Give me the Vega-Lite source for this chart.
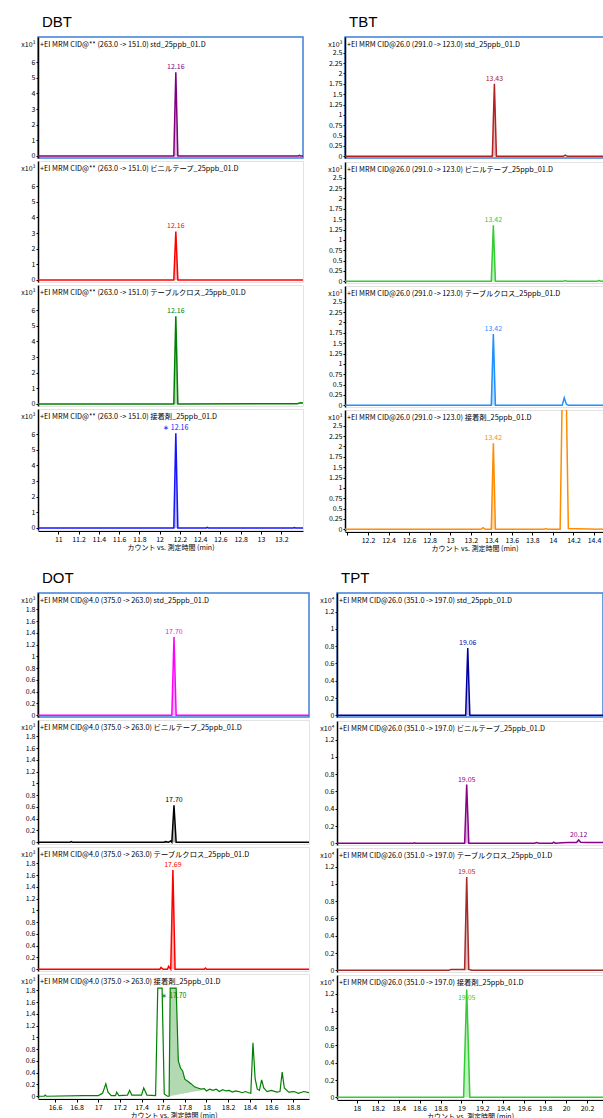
{
"$schema": "https://vega.github.io/schema/vega-lite/v6.json",
"background": "white",
"padding": {"left": 20, "top": 15, "right": 0, "bottom": 0},
"config": {
  "font": "Noto Sans CJK JP",
  "view": {"stroke": "#e3e3e3", "strokeWidth": 1},
  "axis": {"grid": false, "labelFontSize": 7, "labelColor": "#000", "tickColor": "#000", "domainColor": "#000", "titleFontSize": 7, "titleFontWeight": "normal", "titleColor": "#000"},
  "axisY": {"tickSize": 2, "labelPadding": 1, "domainWidth": 1.5, "titleAngle": 0, "titleAlign": "right", "titleBaseline": "alphabetic", "titleX": -3, "titleY": 9},
  "axisX": {"tickSize": 3, "labelPadding": 1, "titlePadding": 1, "offset": 1},
  "title": {"fontSize": 7.3, "font": "Noto Sans CJK JP", "fontWeight": "normal", "anchor": "start", "frame": "group", "offset": -11, "dx": 2, "color": "#000", "baseline": "bottom"},
  "line": {"strokeWidth": 1.5},
  "area": {"opacity": 0.3},
  "text": {"fontSize": 7, "dy": -5}
},
"data": {"values": [
{"c":"DBT","s":"std","t":10.8,"v":0},{"c":"DBT","s":"std","t":12.14,"v":0,"b":0},{"c":"DBT","s":"std","t":12.16,"v":5.35,"b":0},{"c":"DBT","s":"std","t":12.18,"v":0,"b":0},{"c":"DBT","s":"std","t":13.37,"v":0},{"c":"DBT","s":"std","t":13.38,"v":0.04},{"c":"DBT","s":"std","t":13.39,"v":0},{"c":"DBT","s":"std","t":13.415,"v":0},{"c":"DBT","s":"std","t":12.16,"v":5.35,"l":"12.16"},
{"c":"DBT","s":"vin","t":10.8,"v":0},{"c":"DBT","s":"vin","t":12.14,"v":0,"b":0},{"c":"DBT","s":"vin","t":12.16,"v":3.1,"b":0},{"c":"DBT","s":"vin","t":12.18,"v":0,"b":0},{"c":"DBT","s":"vin","t":13.415,"v":0},{"c":"DBT","s":"vin","t":12.16,"v":3.1,"l":"12.16"},
{"c":"DBT","s":"tab","t":10.8,"v":0},{"c":"DBT","s":"tab","t":12.14,"v":0,"b":0},{"c":"DBT","s":"tab","t":12.16,"v":5.6,"b":0},{"c":"DBT","s":"tab","t":12.18,"v":0,"b":0},{"c":"DBT","s":"tab","t":13.36,"v":0.02},{"c":"DBT","s":"tab","t":13.39,"v":0.07},{"c":"DBT","s":"tab","t":13.415,"v":0.06},{"c":"DBT","s":"tab","t":12.16,"v":5.6,"l":"12.16"},
{"c":"DBT","s":"adh","t":10.8,"v":0},{"c":"DBT","s":"adh","t":12.14,"v":0,"b":0},{"c":"DBT","s":"adh","t":12.16,"v":6.05,"b":0},{"c":"DBT","s":"adh","t":12.18,"v":0,"b":0},{"c":"DBT","s":"adh","t":12.46,"v":0},{"c":"DBT","s":"adh","t":12.47,"v":0.04},{"c":"DBT","s":"adh","t":12.48,"v":0},{"c":"DBT","s":"adh","t":13.32,"v":0},{"c":"DBT","s":"adh","t":13.33,"v":0.03},{"c":"DBT","s":"adh","t":13.34,"v":0},{"c":"DBT","s":"adh","t":13.415,"v":0},{"c":"DBT","s":"adh","t":12.16,"v":6.05,"l":"∗ 12.16"},
{"c":"TBT","s":"std","t":11.976,"v":0},{"c":"TBT","s":"std","t":13.41,"v":0,"b":0},{"c":"TBT","s":"std","t":13.43,"v":1.75,"b":0},{"c":"TBT","s":"std","t":13.45,"v":0,"b":0},{"c":"TBT","s":"std","t":14.1,"v":0},{"c":"TBT","s":"std","t":14.12,"v":0.03},{"c":"TBT","s":"std","t":14.14,"v":0},{"c":"TBT","s":"std","t":14.497,"v":0},{"c":"TBT","s":"std","t":13.43,"v":1.75,"l":"13.43"},
{"c":"TBT","s":"vin","t":11.976,"v":0},{"c":"TBT","s":"vin","t":13.4,"v":0,"b":0},{"c":"TBT","s":"vin","t":13.42,"v":1.35,"b":0},{"c":"TBT","s":"vin","t":13.44,"v":0,"b":0},{"c":"TBT","s":"vin","t":14.1,"v":0},{"c":"TBT","s":"vin","t":14.12,"v":0.02},{"c":"TBT","s":"vin","t":14.14,"v":0},{"c":"TBT","s":"vin","t":14.43,"v":0},{"c":"TBT","s":"vin","t":14.45,"v":0.02},{"c":"TBT","s":"vin","t":14.47,"v":0},{"c":"TBT","s":"vin","t":14.497,"v":0},{"c":"TBT","s":"vin","t":13.42,"v":1.35,"l":"13.42"},
{"c":"TBT","s":"tab","t":11.976,"v":0},{"c":"TBT","s":"tab","t":13.4,"v":0,"b":0},{"c":"TBT","s":"tab","t":13.42,"v":1.72,"b":0},{"c":"TBT","s":"tab","t":13.44,"v":0,"b":0},{"c":"TBT","s":"tab","t":14.09,"v":0},{"c":"TBT","s":"tab","t":14.11,"v":0.18},{"c":"TBT","s":"tab","t":14.13,"v":0.03},{"c":"TBT","s":"tab","t":14.15,"v":0},{"c":"TBT","s":"tab","t":14.497,"v":0},{"c":"TBT","s":"tab","t":13.42,"v":1.72,"l":"13.42"},
{"c":"TBT","s":"adh","t":11.976,"v":0},{"c":"TBT","s":"adh","t":13.3,"v":0},{"c":"TBT","s":"adh","t":13.32,"v":0.04},{"c":"TBT","s":"adh","t":13.34,"v":0},{"c":"TBT","s":"adh","t":13.4,"v":0,"b":0},{"c":"TBT","s":"adh","t":13.42,"v":2.08,"b":0},{"c":"TBT","s":"adh","t":13.44,"v":0,"b":0},{"c":"TBT","s":"adh","t":13.91,"v":0},{"c":"TBT","s":"adh","t":13.93,"v":0.02},{"c":"TBT","s":"adh","t":13.95,"v":0},{"c":"TBT","s":"adh","t":14.07,"v":0},{"c":"TBT","s":"adh","t":14.09,"v":3.2},{"c":"TBT","s":"adh","t":14.13,"v":3.2},{"c":"TBT","s":"adh","t":14.15,"v":0.02},{"c":"TBT","s":"adh","t":14.44,"v":0},{"c":"TBT","s":"adh","t":14.45,"v":0.01},{"c":"TBT","s":"adh","t":14.497,"v":0},{"c":"TBT","s":"adh","t":13.42,"v":2.08,"l":"13.42"},
{"c":"DOT","s":"std","t":16.443,"v":0},{"c":"DOT","s":"std","t":17.68,"v":0,"b":0},{"c":"DOT","s":"std","t":17.7,"v":1.33,"b":0},{"c":"DOT","s":"std","t":17.72,"v":0,"b":0},{"c":"DOT","s":"std","t":18.948,"v":0},{"c":"DOT","s":"std","t":17.7,"v":1.33,"l":"17.70"},
{"c":"DOT","s":"vin","t":16.443,"v":0},{"c":"DOT","s":"vin","t":16.74,"v":0},{"c":"DOT","s":"vin","t":16.75,"v":0.01},{"c":"DOT","s":"vin","t":16.76,"v":0},{"c":"DOT","s":"vin","t":17.61,"v":0},{"c":"DOT","s":"vin","t":17.62,"v":0.01},{"c":"DOT","s":"vin","t":17.65,"v":0},{"c":"DOT","s":"vin","t":17.67,"v":0.02},{"c":"DOT","s":"vin","t":17.68,"v":0,"b":0},{"c":"DOT","s":"vin","t":17.7,"v":0.63,"b":0},{"c":"DOT","s":"vin","t":17.72,"v":0,"b":0},{"c":"DOT","s":"vin","t":18.948,"v":0},{"c":"DOT","s":"vin","t":17.7,"v":0.63,"l":"17.70"},
{"c":"DOT","s":"tab","t":16.443,"v":0},{"c":"DOT","s":"tab","t":17.57,"v":0},{"c":"DOT","s":"tab","t":17.58,"v":0.03},{"c":"DOT","s":"tab","t":17.6,"v":0},{"c":"DOT","s":"tab","t":17.64,"v":0},{"c":"DOT","s":"tab","t":17.65,"v":0.05},{"c":"DOT","s":"tab","t":17.67,"v":0,"b":0},{"c":"DOT","s":"tab","t":17.69,"v":1.69,"b":0},{"c":"DOT","s":"tab","t":17.71,"v":0,"b":0},{"c":"DOT","s":"tab","t":17.98,"v":0},{"c":"DOT","s":"tab","t":17.99,"v":0.02},{"c":"DOT","s":"tab","t":18.0,"v":0},{"c":"DOT","s":"tab","t":18.948,"v":0},{"c":"DOT","s":"tab","t":17.69,"v":1.69,"l":"17.69"},
{"c":"DOT","s":"adh","t":16.443,"v":0},{"c":"DOT","s":"adh","t":16.5,"v":0},{"c":"DOT","s":"adh","t":16.51,"v":0.02},{"c":"DOT","s":"adh","t":16.52,"v":0},{"c":"DOT","s":"adh","t":16.86,"v":0.01},{"c":"DOT","s":"adh","t":17.0,"v":0.01},{"c":"DOT","s":"adh","t":17.04,"v":0.05},{"c":"DOT","s":"adh","t":17.07,"v":0.21},{"c":"DOT","s":"adh","t":17.09,"v":0.07},{"c":"DOT","s":"adh","t":17.12,"v":0.01},{"c":"DOT","s":"adh","t":17.16,"v":0.01},{"c":"DOT","s":"adh","t":17.17,"v":0.07},{"c":"DOT","s":"adh","t":17.19,"v":0.01},{"c":"DOT","s":"adh","t":17.27,"v":0.02},{"c":"DOT","s":"adh","t":17.29,"v":0.1},{"c":"DOT","s":"adh","t":17.31,"v":0.02},{"c":"DOT","s":"adh","t":17.4,"v":0.02},{"c":"DOT","s":"adh","t":17.42,"v":0.14},{"c":"DOT","s":"adh","t":17.45,"v":0.02},{"c":"DOT","s":"adh","t":17.53,"v":0.01},{"c":"DOT","s":"adh","t":17.55,"v":1.84},{"c":"DOT","s":"adh","t":17.59,"v":1.84},{"c":"DOT","s":"adh","t":17.61,"v":0.04},{"c":"DOT","s":"adh","t":17.64,"v":0},{"c":"DOT","s":"adh","t":17.655,"v":0,"b":0},{"c":"DOT","s":"adh","t":17.665,"v":1.84,"b":0.004},{"c":"DOT","s":"adh","t":17.72,"v":1.84,"b":0.023},{"c":"DOT","s":"adh","t":17.74,"v":0.6,"b":0.03},{"c":"DOT","s":"adh","t":17.76,"v":0.48,"b":0.036},{"c":"DOT","s":"adh","t":17.78,"v":0.43,"b":0.043},{"c":"DOT","s":"adh","t":17.8,"v":0.29,"b":0.05},{"c":"DOT","s":"adh","t":17.83,"v":0.25,"b":0.06},{"c":"DOT","s":"adh","t":17.86,"v":0.21,"b":0.07},{"c":"DOT","s":"adh","t":17.89,"v":0.16,"b":0.08},{"c":"DOT","s":"adh","t":17.92,"v":0.14,"b":0.09},{"c":"DOT","s":"adh","t":17.95,"v":0.12,"b":0.1},{"c":"DOT","s":"adh","t":17.98,"v":0.13},{"c":"DOT","s":"adh","t":18.0,"v":0.09},{"c":"DOT","s":"adh","t":18.03,"v":0.12},{"c":"DOT","s":"adh","t":18.06,"v":0.1},{"c":"DOT","s":"adh","t":18.09,"v":0.12},{"c":"DOT","s":"adh","t":18.12,"v":0.08},{"c":"DOT","s":"adh","t":18.15,"v":0.11},{"c":"DOT","s":"adh","t":18.18,"v":0.09},{"c":"DOT","s":"adh","t":18.21,"v":0.1},{"c":"DOT","s":"adh","t":18.24,"v":0.07},{"c":"DOT","s":"adh","t":18.27,"v":0.09},{"c":"DOT","s":"adh","t":18.3,"v":0.08},{"c":"DOT","s":"adh","t":18.33,"v":0.06},{"c":"DOT","s":"adh","t":18.36,"v":0.08},{"c":"DOT","s":"adh","t":18.39,"v":0.06},{"c":"DOT","s":"adh","t":18.41,"v":0.05},{"c":"DOT","s":"adh","t":18.43,"v":0.91},{"c":"DOT","s":"adh","t":18.45,"v":0.3},{"c":"DOT","s":"adh","t":18.47,"v":0.12},{"c":"DOT","s":"adh","t":18.49,"v":0.1},{"c":"DOT","s":"adh","t":18.51,"v":0.28},{"c":"DOT","s":"adh","t":18.53,"v":0.14},{"c":"DOT","s":"adh","t":18.56,"v":0.08},{"c":"DOT","s":"adh","t":18.6,"v":0.1},{"c":"DOT","s":"adh","t":18.65,"v":0.07},{"c":"DOT","s":"adh","t":18.68,"v":0.08},{"c":"DOT","s":"adh","t":18.7,"v":0.41},{"c":"DOT","s":"adh","t":18.72,"v":0.14},{"c":"DOT","s":"adh","t":18.76,"v":0.07},{"c":"DOT","s":"adh","t":18.81,"v":0.08},{"c":"DOT","s":"adh","t":18.85,"v":0.05},{"c":"DOT","s":"adh","t":18.9,"v":0.08},{"c":"DOT","s":"adh","t":18.948,"v":0.06},{"c":"DOT","s":"adh","t":17.7,"v":1.62,"l":"∗ 17.70"},
{"c":"TPT","s":"std","t":17.81,"v":0},{"c":"TPT","s":"std","t":19.04,"v":0,"b":0},{"c":"TPT","s":"std","t":19.06,"v":0.78,"b":0},{"c":"TPT","s":"std","t":19.08,"v":0,"b":0},{"c":"TPT","s":"std","t":20.353,"v":0},{"c":"TPT","s":"std","t":19.06,"v":0.78,"l":"19.06"},
{"c":"TPT","s":"vin","t":17.81,"v":0},{"c":"TPT","s":"vin","t":18.54,"v":0},{"c":"TPT","s":"vin","t":18.55,"v":0.006},{"c":"TPT","s":"vin","t":18.56,"v":0},{"c":"TPT","s":"vin","t":19.03,"v":0,"b":0},{"c":"TPT","s":"vin","t":19.05,"v":0.68,"b":0},{"c":"TPT","s":"vin","t":19.07,"v":0,"b":0},{"c":"TPT","s":"vin","t":19.7,"v":0},{"c":"TPT","s":"vin","t":19.72,"v":0.008},{"c":"TPT","s":"vin","t":19.74,"v":0},{"c":"TPT","s":"vin","t":19.87,"v":0},{"c":"TPT","s":"vin","t":19.88,"v":0.012},{"c":"TPT","s":"vin","t":19.9,"v":0},{"c":"TPT","s":"vin","t":19.96,"v":0.006},{"c":"TPT","s":"vin","t":20.02,"v":0.01},{"c":"TPT","s":"vin","t":20.1,"v":0.01,"b":0.008},{"c":"TPT","s":"vin","t":20.12,"v":0.04,"b":0.008},{"c":"TPT","s":"vin","t":20.14,"v":0.012,"b":0.008},{"c":"TPT","s":"vin","t":20.2,"v":0.01},{"c":"TPT","s":"vin","t":20.3,"v":0.008},{"c":"TPT","s":"vin","t":20.353,"v":0.008},{"c":"TPT","s":"vin","t":19.05,"v":0.68,"l":"19.05"},{"c":"TPT","s":"vin","t":20.12,"v":0.04,"l":"20.12"},
{"c":"TPT","s":"tab","t":17.81,"v":0},{"c":"TPT","s":"tab","t":18.88,"v":0},{"c":"TPT","s":"tab","t":18.9,"v":0.01},{"c":"TPT","s":"tab","t":19.0,"v":0.01},{"c":"TPT","s":"tab","t":19.03,"v":0.01,"b":0},{"c":"TPT","s":"tab","t":19.05,"v":1.08,"b":0},{"c":"TPT","s":"tab","t":19.07,"v":0.01,"b":0},{"c":"TPT","s":"tab","t":19.1,"v":0},{"c":"TPT","s":"tab","t":20.353,"v":0},{"c":"TPT","s":"tab","t":19.05,"v":1.08,"l":"19.05"},
{"c":"TPT","s":"adh","t":17.81,"v":0},{"c":"TPT","s":"adh","t":19.02,"v":0,"b":0},{"c":"TPT","s":"adh","t":19.05,"v":1.25,"b":0},{"c":"TPT","s":"adh","t":19.08,"v":0,"b":0},{"c":"TPT","s":"adh","t":20.353,"v":0},{"c":"TPT","s":"adh","t":19.05,"v":1.09,"l":"19.05"}
]},
"vconcat": [
{"hconcat": [
{"title": {"text": "DBT", "fontSize": 15, "font": "Liberation Sans", "offset": -9, "dx": 4, "baseline": "bottom"}, "spacing": 0, "vconcat": [
{"width": 265, "height": 121, "view": {"stroke": "#3f7fd9", "strokeWidth": 1.5}, "title": "+EI MRM CID@** (263.0 -> 151.0) std_25ppb_01.D",
 "transform": [{"filter": "datum.c=='DBT' && datum.s=='std'"}],
 "encoding": {"x": {"field": "t", "type": "quantitative", "scale": {"domain": [10.8, 13.415], "nice": false, "zero": false}, "axis": null},
  "y": {"field": "v", "type": "quantitative", "scale": {"domain": [-0.13, 7.6], "nice": false, "zero": false}, "axis": {"values": [0,1,2,3,4,5,6], "format": ".6~g", "title": "x10³"}}},
 "layer": [
  {"transform": [{"filter": "datum.b != null"}], "mark": {"type": "area", "color": "#800080", "clip": true}, "encoding": {"y2": {"field": "b"}}},
  {"transform": [{"filter": "!datum.l"}], "mark": {"type": "line", "color": "#800080", "clip": true}},
  {"transform": [{"filter": "datum.l"}], "mark": {"type": "text", "color": "#800080"}, "encoding": {"text": {"field": "l"}}}]},
{"width": 265, "height": 121, "title": "+EI MRM CID@** (263.0 -> 151.0) ビニルテープ_25ppb_01.D",
 "transform": [{"filter": "datum.c=='DBT' && datum.s=='vin'"}],
 "encoding": {"x": {"field": "t", "type": "quantitative", "scale": {"domain": [10.8, 13.415], "nice": false, "zero": false}, "axis": null},
  "y": {"field": "v", "type": "quantitative", "scale": {"domain": [-0.13, 7.6], "nice": false, "zero": false}, "axis": {"values": [0,1,2,3,4,5,6], "format": ".6~g", "title": "x10³"}}},
 "layer": [
  {"transform": [{"filter": "datum.b != null"}], "mark": {"type": "area", "color": "#ff0000", "clip": true}, "encoding": {"y2": {"field": "b"}}},
  {"transform": [{"filter": "!datum.l"}], "mark": {"type": "line", "color": "#ff0000", "clip": true}},
  {"transform": [{"filter": "datum.l"}], "mark": {"type": "text", "color": "#ff0000"}, "encoding": {"text": {"field": "l"}}}]},
{"width": 265, "height": 121, "title": "+EI MRM CID@** (263.0 -> 151.0) テーブルクロス_25ppb_01.D",
 "transform": [{"filter": "datum.c=='DBT' && datum.s=='tab'"}],
 "encoding": {"x": {"field": "t", "type": "quantitative", "scale": {"domain": [10.8, 13.415], "nice": false, "zero": false}, "axis": null},
  "y": {"field": "v", "type": "quantitative", "scale": {"domain": [-0.13, 7.6], "nice": false, "zero": false}, "axis": {"values": [0,1,2,3,4,5,6], "format": ".6~g", "title": "x10³"}}},
 "layer": [
  {"transform": [{"filter": "datum.b != null"}], "mark": {"type": "area", "color": "#008000", "clip": true}, "encoding": {"y2": {"field": "b"}}},
  {"transform": [{"filter": "!datum.l"}], "mark": {"type": "line", "color": "#008000", "clip": true}},
  {"transform": [{"filter": "datum.l"}], "mark": {"type": "text", "color": "#008000"}, "encoding": {"text": {"field": "l"}}}]},
{"width": 265, "height": 121, "title": "+EI MRM CID@** (263.0 -> 151.0) 接着剤_25ppb_01.D",
 "transform": [{"filter": "datum.c=='DBT' && datum.s=='adh'"}],
 "encoding": {"x": {"field": "t", "type": "quantitative", "scale": {"domain": [10.8, 13.415], "nice": false, "zero": false}, "axis": {"values": [11,11.2,11.4,11.6,11.8,12,12.2,12.4,12.6,12.8,13,13.2], "format": ".6~g", "title": "カウント vs. 測定時間 (min)"}},
  "y": {"field": "v", "type": "quantitative", "scale": {"domain": [-0.13, 7.6], "nice": false, "zero": false}, "axis": {"values": [0,1,2,3,4,5,6], "format": ".6~g", "title": "x10³"}}},
 "layer": [
  {"transform": [{"filter": "datum.b != null"}], "mark": {"type": "area", "color": "#1414ff", "clip": true}, "encoding": {"y2": {"field": "b"}}},
  {"transform": [{"filter": "!datum.l"}], "mark": {"type": "line", "color": "#1414ff", "clip": true}},
  {"transform": [{"filter": "datum.l"}], "mark": {"type": "text", "color": "#1414ff"}, "encoding": {"text": {"field": "l"}}}]}
]},
{"title": {"text": "TBT", "fontSize": 15, "font": "Liberation Sans", "offset": -9, "dx": 4, "baseline": "bottom"}, "spacing": 0, "vconcat": [
{"width": 259, "height": 121, "view": {"stroke": "#3f7fd9", "strokeWidth": 1.5}, "title": "+EI MRM CID@26.0 (291.0 -> 123.0) std_25ppb_01.D",
 "transform": [{"filter": "datum.c=='TBT' && datum.s=='std'"}],
 "encoding": {"x": {"field": "t", "type": "quantitative", "scale": {"domain": [11.976, 14.497], "nice": false, "zero": false}, "axis": null},
  "y": {"field": "v", "type": "quantitative", "scale": {"domain": [-0.04, 2.88], "nice": false, "zero": false}, "axis": {"values": [0,0.25,0.5,0.75,1,1.25,1.5,1.75,2,2.25,2.5], "format": ".6~g", "title": "x10³"}}},
 "layer": [
  {"transform": [{"filter": "datum.b != null"}], "mark": {"type": "area", "color": "#b22222", "clip": true}, "encoding": {"y2": {"field": "b"}}},
  {"transform": [{"filter": "!datum.l"}], "mark": {"type": "line", "color": "#b22222", "clip": true}},
  {"transform": [{"filter": "datum.l"}], "mark": {"type": "text", "color": "#b22222"}, "encoding": {"text": {"field": "l"}}}]},
{"width": 259, "height": 121, "title": "+EI MRM CID@26.0 (291.0 -> 123.0) ビニルテープ_25ppb_01.D",
 "transform": [{"filter": "datum.c=='TBT' && datum.s=='vin'"}],
 "encoding": {"x": {"field": "t", "type": "quantitative", "scale": {"domain": [11.976, 14.497], "nice": false, "zero": false}, "axis": null},
  "y": {"field": "v", "type": "quantitative", "scale": {"domain": [-0.04, 2.88], "nice": false, "zero": false}, "axis": {"values": [0,0.25,0.5,0.75,1,1.25,1.5,1.75,2,2.25,2.5], "format": ".6~g", "title": "x10³"}}},
 "layer": [
  {"transform": [{"filter": "datum.b != null"}], "mark": {"type": "area", "color": "#32cd32", "clip": true}, "encoding": {"y2": {"field": "b"}}},
  {"transform": [{"filter": "!datum.l"}], "mark": {"type": "line", "color": "#32cd32", "clip": true}},
  {"transform": [{"filter": "datum.l"}], "mark": {"type": "text", "color": "#32cd32"}, "encoding": {"text": {"field": "l"}}}]},
{"width": 259, "height": 121, "title": "+EI MRM CID@26.0 (291.0 -> 123.0) テーブルクロス_25ppb_01.D",
 "transform": [{"filter": "datum.c=='TBT' && datum.s=='tab'"}],
 "encoding": {"x": {"field": "t", "type": "quantitative", "scale": {"domain": [11.976, 14.497], "nice": false, "zero": false}, "axis": null},
  "y": {"field": "v", "type": "quantitative", "scale": {"domain": [-0.04, 2.88], "nice": false, "zero": false}, "axis": {"values": [0,0.25,0.5,0.75,1,1.25,1.5,1.75,2,2.25,2.5], "format": ".6~g", "title": "x10³"}}},
 "layer": [
  {"transform": [{"filter": "datum.b != null"}], "mark": {"type": "area", "color": "#1e90ff", "clip": true}, "encoding": {"y2": {"field": "b"}}},
  {"transform": [{"filter": "!datum.l"}], "mark": {"type": "line", "color": "#1e90ff", "clip": true}},
  {"transform": [{"filter": "datum.l"}], "mark": {"type": "text", "color": "#1e90ff"}, "encoding": {"text": {"field": "l"}}}]},
{"width": 259, "height": 121, "title": "+EI MRM CID@26.0 (291.0 -> 123.0) 接着剤_25ppb_01.D",
 "transform": [{"filter": "datum.c=='TBT' && datum.s=='adh'"}],
 "encoding": {"x": {"field": "t", "type": "quantitative", "scale": {"domain": [11.976, 14.497], "nice": false, "zero": false}, "axis": {"values": [12,12.2,12.4,12.6,12.8,13,13.2,13.4,13.6,13.8,14,14.2,14.4], "labelExpr": "datum.value < 12.1 ? '' : format(datum.value, '.6~g')", "title": "カウント vs. 測定時間 (min)"}},
  "y": {"field": "v", "type": "quantitative", "scale": {"domain": [-0.04, 2.88], "nice": false, "zero": false}, "axis": {"values": [0,0.25,0.5,0.75,1,1.25,1.5,1.75,2,2.25,2.5], "format": ".6~g", "title": "x10³"}}},
 "layer": [
  {"transform": [{"filter": "datum.b != null"}], "mark": {"type": "area", "color": "#ff8c00", "clip": true}, "encoding": {"y2": {"field": "b"}}},
  {"transform": [{"filter": "!datum.l"}], "mark": {"type": "line", "color": "#ff8c00", "clip": true}},
  {"transform": [{"filter": "datum.l"}], "mark": {"type": "text", "color": "#ff8c00"}, "encoding": {"text": {"field": "l"}}}]}
]}
], "spacing": 23},
{"hconcat": [
{"title": {"text": "DOT", "fontSize": 15, "font": "Liberation Sans", "offset": -9, "dx": 4, "baseline": "bottom"}, "spacing": 0, "vconcat": [
{"width": 271, "height": 124, "view": {"stroke": "#3f7fd9", "strokeWidth": 1.5}, "title": "+EI MRM CID@4.0 (375.0 -> 263.0) std_25ppb_01.D",
 "transform": [{"filter": "datum.c=='DOT' && datum.s=='std'"}],
 "encoding": {"x": {"field": "t", "type": "quantitative", "scale": {"domain": [16.443, 18.948], "nice": false, "zero": false}, "axis": null},
  "y": {"field": "v", "type": "quantitative", "scale": {"domain": [-0.03, 2.08], "nice": false, "zero": false}, "axis": {"values": [0,0.2,0.4,0.6,0.8,1,1.2,1.4,1.6,1.8], "format": ".6~g", "title": "x10³"}}},
 "layer": [
  {"transform": [{"filter": "datum.b != null"}], "mark": {"type": "area", "color": "#ff00ff", "clip": true}, "encoding": {"y2": {"field": "b"}}},
  {"transform": [{"filter": "!datum.l"}], "mark": {"type": "line", "color": "#ff00ff", "clip": true}},
  {"transform": [{"filter": "datum.l"}], "mark": {"type": "text", "color": "#ff00ff"}, "encoding": {"text": {"field": "l"}}}]},
{"width": 271, "height": 124, "title": "+EI MRM CID@4.0 (375.0 -> 263.0) ビニルテープ_25ppb_01.D",
 "transform": [{"filter": "datum.c=='DOT' && datum.s=='vin'"}],
 "encoding": {"x": {"field": "t", "type": "quantitative", "scale": {"domain": [16.443, 18.948], "nice": false, "zero": false}, "axis": null},
  "y": {"field": "v", "type": "quantitative", "scale": {"domain": [-0.03, 2.08], "nice": false, "zero": false}, "axis": {"values": [0,0.2,0.4,0.6,0.8,1,1.2,1.4,1.6,1.8], "format": ".6~g", "title": "x10³"}}},
 "layer": [
  {"transform": [{"filter": "datum.b != null"}], "mark": {"type": "area", "color": "#000000", "clip": true}, "encoding": {"y2": {"field": "b"}}},
  {"transform": [{"filter": "!datum.l"}], "mark": {"type": "line", "color": "#000000", "clip": true}},
  {"transform": [{"filter": "datum.l"}], "mark": {"type": "text", "color": "#000000"}, "encoding": {"text": {"field": "l"}}}]},
{"width": 271, "height": 124, "title": "+EI MRM CID@4.0 (375.0 -> 263.0) テーブルクロス_25ppb_01.D",
 "transform": [{"filter": "datum.c=='DOT' && datum.s=='tab'"}],
 "encoding": {"x": {"field": "t", "type": "quantitative", "scale": {"domain": [16.443, 18.948], "nice": false, "zero": false}, "axis": null},
  "y": {"field": "v", "type": "quantitative", "scale": {"domain": [-0.03, 2.08], "nice": false, "zero": false}, "axis": {"values": [0,0.2,0.4,0.6,0.8,1,1.2,1.4,1.6,1.8], "format": ".6~g", "title": "x10³"}}},
 "layer": [
  {"transform": [{"filter": "datum.b != null"}], "mark": {"type": "area", "color": "#ff0000", "clip": true}, "encoding": {"y2": {"field": "b"}}},
  {"transform": [{"filter": "!datum.l"}], "mark": {"type": "line", "color": "#ff0000", "clip": true}},
  {"transform": [{"filter": "datum.l"}], "mark": {"type": "text", "color": "#ff0000"}, "encoding": {"text": {"field": "l"}}}]},
{"width": 271, "height": 124, "title": "+EI MRM CID@4.0 (375.0 -> 263.0) 接着剤_25ppb_01.D",
 "transform": [{"filter": "datum.c=='DOT' && datum.s=='adh'"}],
 "encoding": {"x": {"field": "t", "type": "quantitative", "scale": {"domain": [16.443, 18.948], "nice": false, "zero": false}, "axis": {"values": [16.6,16.8,17,17.2,17.4,17.6,17.8,18,18.2,18.4,18.6,18.8], "format": ".6~g", "title": "カウント vs. 測定時間 (min)"}},
  "y": {"field": "v", "type": "quantitative", "scale": {"domain": [-0.03, 2.08], "nice": false, "zero": false}, "axis": {"values": [0,0.2,0.4,0.6,0.8,1,1.2,1.4,1.6,1.8], "format": ".6~g", "title": "x10³"}}},
 "layer": [
  {"transform": [{"filter": "datum.b != null"}], "mark": {"type": "area", "color": "#008000", "clip": true}, "encoding": {"y2": {"field": "b"}}},
  {"transform": [{"filter": "!datum.l"}], "mark": {"type": "line", "color": "#008000", "strokeWidth": 1.2, "clip": true}},
  {"transform": [{"filter": "datum.l"}], "mark": {"type": "text", "color": "#008000"}, "encoding": {"text": {"field": "l"}}}]}
]},
{"title": {"text": "TPT", "fontSize": 15, "font": "Liberation Sans", "offset": -9, "dx": 4, "baseline": "bottom"}, "spacing": 0, "vconcat": [
{"width": 266, "height": 124, "view": {"stroke": "#3f7fd9", "strokeWidth": 1.5}, "title": "+EI MRM CID@26.0 (351.0 -> 197.0) std_25ppb_01.D",
 "transform": [{"filter": "datum.c=='TPT' && datum.s=='std'"}],
 "encoding": {"x": {"field": "t", "type": "quantitative", "scale": {"domain": [17.81, 20.353], "nice": false, "zero": false}, "axis": null},
  "y": {"field": "v", "type": "quantitative", "scale": {"domain": [-0.02, 1.417], "nice": false, "zero": false}, "axis": {"values": [0,0.2,0.4,0.6,0.8,1,1.2], "format": ".6~g", "title": "x10⁴"}}},
 "layer": [
  {"transform": [{"filter": "datum.b != null"}], "mark": {"type": "area", "color": "#0000a0", "clip": true}, "encoding": {"y2": {"field": "b"}}},
  {"transform": [{"filter": "!datum.l"}], "mark": {"type": "line", "color": "#0000a0", "clip": true}},
  {"transform": [{"filter": "datum.l"}], "mark": {"type": "text", "color": "#0000a0"}, "encoding": {"text": {"field": "l"}}}]},
{"width": 266, "height": 124, "title": "+EI MRM CID@26.0 (351.0 -> 197.0) ビニルテープ_25ppb_01.D",
 "transform": [{"filter": "datum.c=='TPT' && datum.s=='vin'"}],
 "encoding": {"x": {"field": "t", "type": "quantitative", "scale": {"domain": [17.81, 20.353], "nice": false, "zero": false}, "axis": null},
  "y": {"field": "v", "type": "quantitative", "scale": {"domain": [-0.02, 1.417], "nice": false, "zero": false}, "axis": {"values": [0,0.2,0.4,0.6,0.8,1,1.2], "format": ".6~g", "title": "x10⁴"}}},
 "layer": [
  {"transform": [{"filter": "datum.b != null"}], "mark": {"type": "area", "color": "#8b008b", "clip": true}, "encoding": {"y2": {"field": "b"}}},
  {"transform": [{"filter": "!datum.l"}], "mark": {"type": "line", "color": "#8b008b", "clip": true}},
  {"transform": [{"filter": "datum.l"}], "mark": {"type": "text", "color": "#8b008b"}, "encoding": {"text": {"field": "l"}}}]},
{"width": 266, "height": 124, "title": "+EI MRM CID@26.0 (351.0 -> 197.0) テーブルクロス_25ppb_01.D",
 "transform": [{"filter": "datum.c=='TPT' && datum.s=='tab'"}],
 "encoding": {"x": {"field": "t", "type": "quantitative", "scale": {"domain": [17.81, 20.353], "nice": false, "zero": false}, "axis": null},
  "y": {"field": "v", "type": "quantitative", "scale": {"domain": [-0.02, 1.417], "nice": false, "zero": false}, "axis": {"values": [0,0.2,0.4,0.6,0.8,1,1.2], "format": ".6~g", "title": "x10⁴"}}},
 "layer": [
  {"transform": [{"filter": "datum.b != null"}], "mark": {"type": "area", "color": "#a52a2a", "clip": true}, "encoding": {"y2": {"field": "b"}}},
  {"transform": [{"filter": "!datum.l"}], "mark": {"type": "line", "color": "#a52a2a", "clip": true}},
  {"transform": [{"filter": "datum.l"}], "mark": {"type": "text", "color": "#a52a2a"}, "encoding": {"text": {"field": "l"}}}]},
{"width": 266, "height": 124, "title": "+EI MRM CID@26.0 (351.0 -> 197.0) 接着剤_25ppb_01.D",
 "transform": [{"filter": "datum.c=='TPT' && datum.s=='adh'"}],
 "encoding": {"x": {"field": "t", "type": "quantitative", "scale": {"domain": [17.81, 20.353], "nice": false, "zero": false}, "axis": {"values": [18,18.2,18.4,18.6,18.8,19,19.2,19.4,19.6,19.8,20,20.2], "format": ".6~g", "title": "カウント vs. 測定時間 (min)"}},
  "y": {"field": "v", "type": "quantitative", "scale": {"domain": [-0.02, 1.417], "nice": false, "zero": false}, "axis": {"values": [0,0.2,0.4,0.6,0.8,1,1.2], "format": ".6~g", "title": "x10⁴"}}},
 "layer": [
  {"transform": [{"filter": "datum.b != null"}], "mark": {"type": "area", "color": "#32cd32", "clip": true}, "encoding": {"y2": {"field": "b"}}},
  {"transform": [{"filter": "!datum.l"}], "mark": {"type": "line", "color": "#32cd32", "clip": true}},
  {"transform": [{"filter": "datum.l"}], "mark": {"type": "text", "color": "#32cd32"}, "encoding": {"text": {"field": "l"}}}]}
]}
], "spacing": 9}
], "spacing": 19}
